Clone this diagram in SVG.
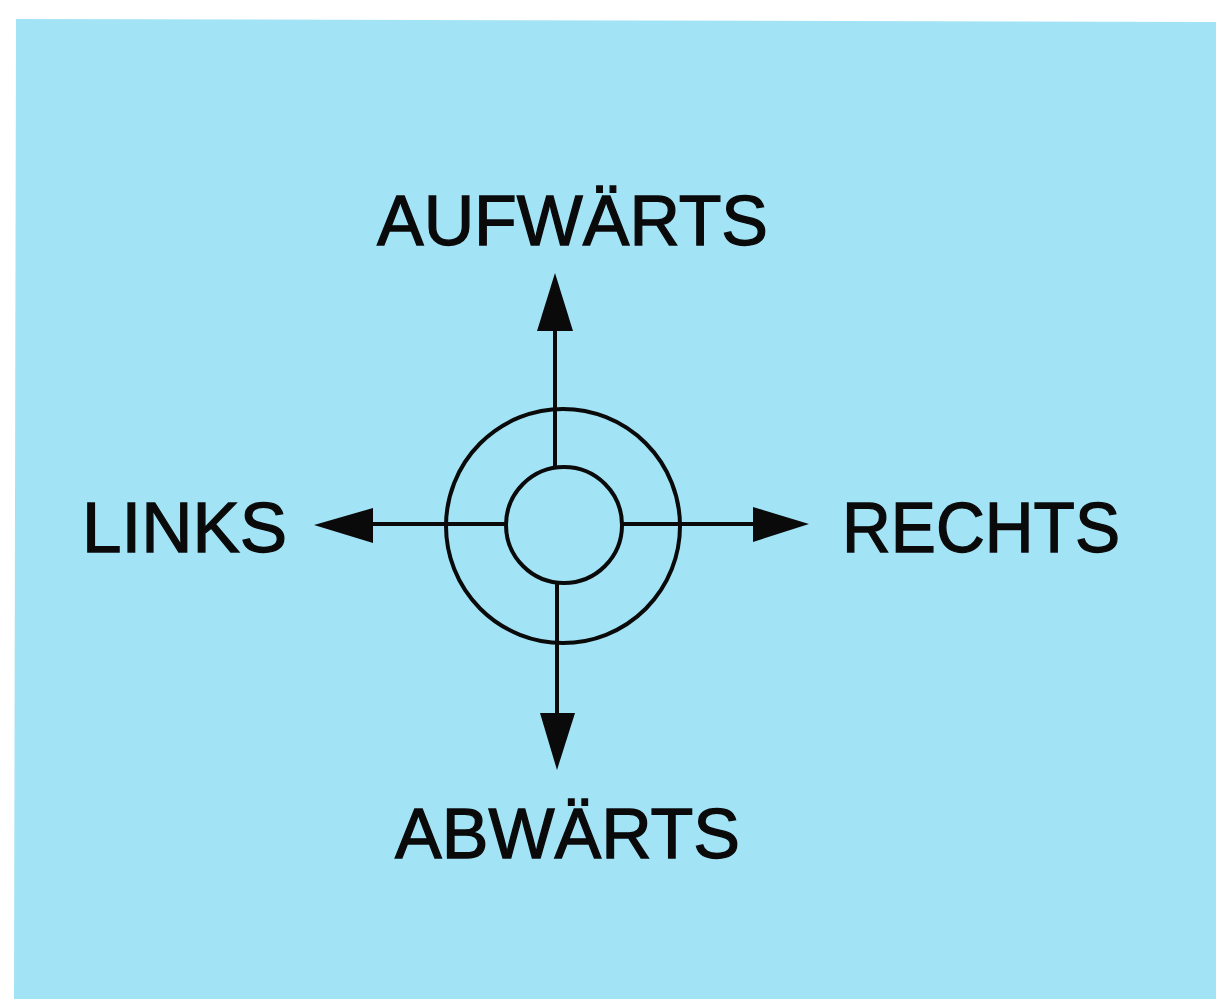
<svg xmlns="http://www.w3.org/2000/svg" width="1216" height="999" viewBox="0 0 1216 999">
<style>
.ln{stroke:#0a0a0a;stroke-width:4;fill:none}
.hd{fill:#0a0a0a;stroke:none}
.lb{font-family:"Liberation Sans",Arial,sans-serif;font-size:70px;fill:#0a0a0a;stroke:#0a0a0a;stroke-width:1.3}
</style>
<rect width="1216" height="999" fill="#fff"/>
<polygon points="16,19 1216,22 1216,999 14,999" fill="#a3e3f6"/>
<g id="center">
<circle class="ln" cx="563" cy="526" r="117"/>
<circle class="ln" cx="564" cy="525" r="58"/>
</g>
<g id="connectors">
<line class="ln" x1="555" y1="325" x2="555" y2="467"/>
<polygon class="hd" points="555,273 537,331 573,331"/>
<line class="ln" x1="557" y1="583" x2="557" y2="718"/>
<polygon class="hd" points="557,770 540,713 575,713"/>
<line class="ln" x1="368" y1="524" x2="506" y2="524"/>
<polygon class="hd" points="314,525 373,508 373,543"/>
<line class="ln" x1="622" y1="524" x2="758" y2="524"/>
<polygon class="hd" points="809,524 753,507 753,542"/>
</g>
<g id="up"><text class="lb" x="377" y="245" textLength="391" lengthAdjust="spacingAndGlyphs">AUFWÄRTS</text></g>
<g id="left"><text class="lb" x="82" y="552" textLength="205" lengthAdjust="spacingAndGlyphs">LINKS</text></g>
<g id="right"><text class="lb" x="842" y="552" textLength="278" lengthAdjust="spacingAndGlyphs">RECHTS</text></g>
<g id="down"><text class="lb" x="395" y="858" textLength="345" lengthAdjust="spacingAndGlyphs">ABWÄRTS</text></g>
</svg>
